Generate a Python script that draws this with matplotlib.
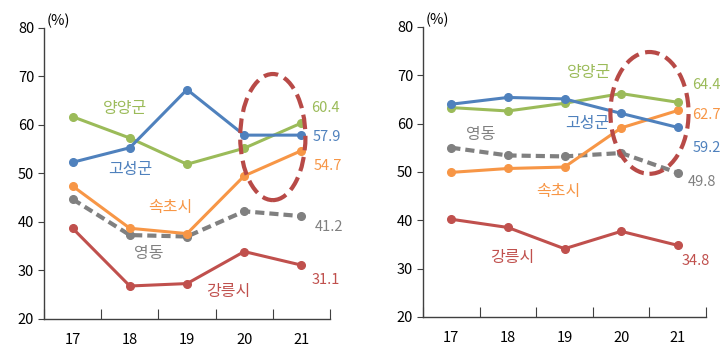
import matplotlib
matplotlib.use("Agg")
import matplotlib.pyplot as plt
from matplotlib.patches import Ellipse

plt.rcParams['font.family'] = ['Noto Sans CJK KR', 'DejaVu Sans']

years = ['17', '18', '19', '20', '21']

# 왼쪽 패널
l_yangyang = [61.7, 57.3, 51.9, 55.2, 60.4]
l_goseong = [52.3, 55.3, 67.3, 57.9, 57.9]
l_sokcho = [47.4, 38.7, 37.6, 49.5, 54.7]
l_yeongdong = [44.7, 37.3, 37.0, 42.2, 41.2]
l_gangneung = [38.7, 26.8, 27.3, 33.9, 31.1]

# 오른쪽 패널
r_yangyang = [63.3, 62.6, 64.2, 66.2, 64.4]
r_goseong = [64.0, 65.4, 65.1, 62.1, 59.2]
r_sokcho = [49.9, 50.7, 51.0, 59.1, 62.7]
r_yeongdong = [55.0, 53.4, 53.2, 53.9, 49.8]
r_gangneung = [40.2, 38.5, 34.1, 37.7, 34.8]

GREEN = '#9BBB59'
BLUE = '#4F81BD'
ORANGE = '#F79646'
GRAY = '#808080'
RED = '#C0504D'
AX = '#404040'


def draw(ax, series, names, ends, ellipse):
    x = list(range(len(years)))
    for vals, c, dashed in series:
        if dashed:
            ax.plot(x, vals, color=c, lw=3, ls=(0, (2.2, 1.2)), marker='o', ms=5.5,
                    zorder=3)
        else:
            ax.plot(x, vals, color=c, lw=2.2, marker='o', ms=5.5, zorder=4)
    for txt, px, py, c in names:
        ax.text(px, py, txt, color=c, fontsize=11.5, ha='center', va='center')
    for txt, px, py, c in ends:
        ax.text(px, py, txt, color=c, fontsize=10.5, ha='left', va='center')
    ex, ey, ew, eh = ellipse
    ax.add_patch(Ellipse((ex, ey), ew, eh, fill=False, ec='#B84A47', lw=3,
                         ls=(0, (3.5, 1.6)), zorder=5))

    ax.set_xlim(-0.5, 4.5)
    ax.set_ylim(20, 80)
    ax.set_yticks(range(20, 81, 10))
    ax.set_xticks([i + 0.5 for i in range(-1, 5)])
    ax.set_xticklabels([])
    ax.set_xticks(x, minor=True)
    ax.set_xticklabels(years, minor=True)
    ax.tick_params(axis='x', which='major', direction='in', length=7, color=AX)
    ax.tick_params(axis='x', which='minor', length=0, pad=10, labelsize=10.5)
    ax.tick_params(axis='y', direction='out', length=4, color=AX, labelsize=10.5, pad=3)
    for s in ['top', 'right']:
        ax.spines[s].set_visible(False)
    for s in ['left', 'bottom']:
        ax.spines[s].set_color(AX)
        ax.spines[s].set_linewidth(1)
    ax.text(0.01, 1.0, '(%)', transform=ax.transAxes, fontsize=10.5, va='bottom',
            ha='left')


fig = plt.figure(figsize=(7.26, 3.49), dpi=100)
ax1 = fig.add_axes([0.0606, 0.086, 0.394, 0.834])
ax2 = fig.add_axes([0.5826, 0.092, 0.390, 0.831])

draw(ax1,
     [(l_yeongdong, GRAY, True), (l_gangneung, RED, False), (l_sokcho, ORANGE, False),
      (l_yangyang, GREEN, False), (l_goseong, BLUE, False)],
     [('양양군', 0.91, 63.3, GREEN), ('고성군', 1.0, 50.9, BLUE),
      ('속초시', 1.7, 42.9, ORANGE), ('영동', 1.33, 33.5, GRAY),
      ('강릉시', 2.73, 25.7, RED)],
     [('60.4', 4.17, 63.5, GREEN), ('57.9', 4.19, 57.5, BLUE),
      ('54.7', 4.22, 51.5, ORANGE), ('41.2', 4.24, 39.0, GRAY),
      ('31.1', 4.17, 28.0, RED)],
     (3.5, 57.5, 1.14, 26.0))

draw(ax2,
     [(r_yeongdong, GRAY, True), (r_gangneung, RED, False), (r_sokcho, ORANGE, False),
      (r_yangyang, GREEN, False), (r_goseong, BLUE, False)],
     [('양양군', 2.43, 70.6, GREEN), ('고성군', 2.4, 60.0, BLUE),
      ('영동', 0.52, 57.7, GRAY), ('속초시', 1.89, 46.0, ORANGE),
      ('강릉시', 1.07, 32.3, RED)],
     [('64.4', 4.26, 67.9, GREEN), ('62.7', 4.26, 61.7, ORANGE),
      ('59.2', 4.26, 55.0, BLUE), ('49.8', 4.18, 47.9, GRAY),
      ('34.8', 4.07, 31.5, RED)],
     (3.5, 62.2, 1.38, 25.2))

fig.savefig('out.png', dpi=100)
